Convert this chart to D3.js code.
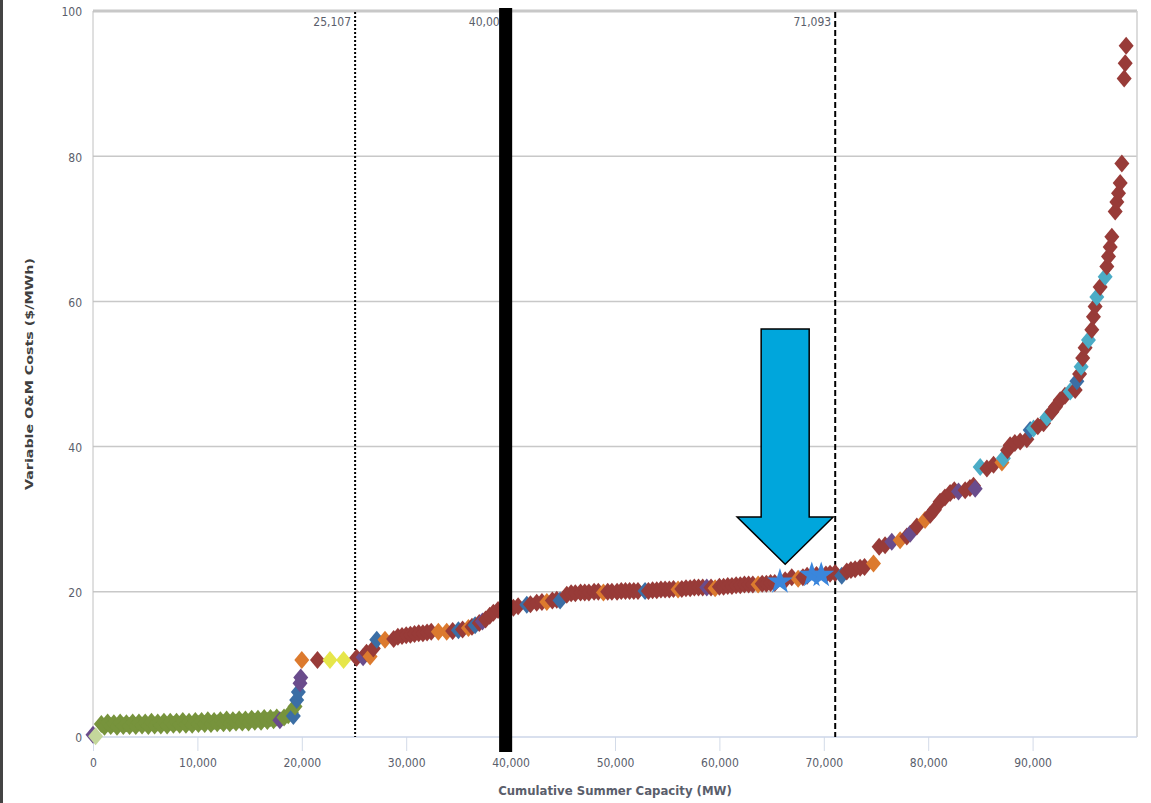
<!DOCTYPE html>
<html>
<head>
<meta charset="utf-8">
<script src="https://cdn.jsdelivr.net/npm/d3@7"></script>
<style>
    body { margin: 0; background: #fff; }
    svg { display: block; }
    .narrow { font-family: "Liberation Sans Narrow", "Arial Narrow", "DejaVu Sans Condensed", "Roboto Condensed", "Liberation Sans", sans-serif; font-stretch: condensed; font-size: 12px; fill: #5a5e6b; }
</style>
</head>
<body>
<div id="chart"></div>
<script>
var width = 1151, height = 803;

// cumulative summer capacity (MW), variable O&M cost ($/MWh) -- one array per marker colour
const sageUnits = [[250, 0.1]];
const greenUnits = [
    [800, 1.8], [1100, 1.4], [1400, 2.0], [1700, 1.5], [2000, 1.9], [2300, 1.4], [2600, 2.0], [2900, 1.5],
    [3200, 1.9], [3500, 1.5], [3800, 2.0], [4100, 1.5], [4400, 2.0], [4700, 1.6], [5000, 2.0], [5300, 1.5],
    [5600, 2.1], [5900, 1.6], [6200, 2.0], [6500, 1.6], [6800, 2.1], [7100, 1.6], [7400, 2.1], [7700, 1.7],
    [8000, 2.1], [8300, 1.7], [8600, 2.2], [8900, 1.7], [9200, 2.1], [9500, 1.7], [9800, 2.2], [10100, 1.8],
    [10400, 2.2], [10700, 1.8], [11000, 2.3], [11300, 1.8], [11600, 2.2], [11900, 1.9], [12200, 2.3], [12500, 1.9],
    [12800, 2.4], [13100, 1.9], [13400, 2.3], [13700, 2.0], [14000, 2.4], [14300, 2.0], [14600, 2.4], [14900, 2.0],
    [15200, 2.5], [15500, 2.1], [15800, 2.5], [16100, 2.1], [16400, 2.6], [16700, 2.2], [17000, 2.6], [17300, 2.3],
    [17600, 2.7], [18300, 2.7], [18700, 3.0], [19000, 3.4], [19350, 4.2]
];
const blueUnits = [
    [19190, 2.9], [19510, 5.1], [19670, 6.2], [27180, 13.4], [35000, 14.7], [36600, 15.4], [41550, 18.2],
    [44740, 18.8], [52880, 20.1], [71720, 22.2], [89770, 42.3], [94240, 49.0]
];
const purpleUnits = [
    [0, 0.3], [17900, 2.3], [19830, 7.4], [19900, 8.2], [25870, 11.0], [37300, 15.9], [58790, 20.6],
    [76510, 26.9], [78270, 28.0], [82900, 33.8], [84500, 34.2]
];
const orangeUnits = [
    [20000, 10.6], [26540, 11.1], [27970, 13.4], [33080, 14.5], [33880, 14.5], [35960, 15.0], [43470, 18.6],
    [48890, 19.9], [56040, 20.3], [59590, 20.5], [63710, 21.0], [67540, 21.8], [74760, 23.9], [77310, 27.1],
    [79700, 29.9], [87060, 37.8]
];
const yellowUnits = [[22700, 10.6], [24000, 10.6]];
const cyanUnits = [
    [84980, 37.2], [87200, 38.4], [90090, 42.5], [91370, 44.0], [93600, 47.6], [94650, 51.0], [95350, 54.7],
    [96150, 60.6], [96950, 63.4]
];
const redUnits = [
    [21500, 10.6], [25250, 10.9], [26200, 11.6], [26850, 12.2],
    [28800, 13.5], [29200, 13.8], [29600, 13.9], [30000, 14.0], [30400, 14.1], [30800, 14.2], [31200, 14.3],
    [31600, 14.3], [32000, 14.4], [32400, 14.5], [34450, 14.6], [35400, 14.8], [36300, 15.2], [37000, 15.7],
    [37600, 16.2], [38000, 16.7], [38350, 17.1], [38800, 17.5], [39300, 17.6], [39800, 17.7], [40270, 17.8],
    [40720, 18.0], [41900, 18.3], [42500, 18.5], [43000, 18.6], [44000, 18.8], [44420, 18.9],
    [45380, 19.6], [45800, 19.8], [46200, 19.8], [46700, 19.9], [47100, 19.9], [47500, 19.9], [48000, 20.0],
    [48400, 20.0], [49300, 20.0], [49700, 20.0], [50200, 20.0], [50600, 20.1], [51000, 20.1], [51400, 20.1],
    [51800, 20.1], [52200, 20.1], [53200, 20.1], [53600, 20.2], [54000, 20.2], [54400, 20.3], [54800, 20.3],
    [55200, 20.3], [55600, 20.4], [56400, 20.4], [56800, 20.5], [57200, 20.5], [57600, 20.6], [58000, 20.6],
    [58400, 20.6], [59200, 20.6], [60000, 20.7], [60400, 20.7], [60800, 20.8], [61200, 20.8], [61600, 20.9],
    [62000, 20.9], [62400, 21.0], [62800, 21.0], [63200, 21.0], [64100, 21.1], [64500, 21.1], [64900, 21.2],
    [65300, 21.2], [66300, 21.6], [66930, 22.0], [68000, 22.0], [68400, 22.2], [69300, 22.3], [70200, 22.4],
    [70600, 22.5], [71080, 22.6], [72200, 22.8], [72600, 23.0], [73000, 23.1], [73480, 23.3], [73900, 23.4],
    [75300, 26.2], [75870, 26.4], [77950, 27.6], [78910, 29.0], [80200, 30.6], [80600, 31.3], [81140, 32.4],
    [81600, 33.0], [82100, 33.6], [82500, 34.0], [83540, 34.0], [84000, 34.3], [84340, 34.6], [85620, 37.0],
    [86260, 37.5], [87600, 39.5], [87850, 40.2], [88300, 40.5], [88810, 40.7], [89450, 41.0], [90500, 42.8],
    [91050, 43.2], [91850, 44.8], [92200, 45.5], [92640, 46.4], [93100, 47.0], [94080, 47.8], [94500, 50.0],
    [94800, 52.2], [95030, 53.6], [95670, 56.1], [95830, 57.9], [95990, 59.3], [96470, 62.0], [97110, 64.8],
    [97270, 66.2], [97430, 67.5], [97590, 68.9], [97910, 72.4], [98070, 73.7], [98230, 74.9], [98390, 76.3],
    [98550, 79.0], [98770, 90.7], [98870, 92.8], [98960, 95.2]
];
const starUnits = [[65800, 21.4], [68850, 22.3], [69750, 22.3]];

const groups = [
    { units: sageUnits, color: '#c4d79b' },
    { units: greenUnits, color: '#77933c' },
    { units: blueUnits, color: '#3b6ea5' },
    { units: purpleUnits, color: '#6a4c8c' },
    { units: orangeUnits, color: '#dc7a2e' },
    { units: yellowUnits, color: '#e6e64a' },
    { units: cyanUnits, color: '#4bacc6' },
    { units: redUnits, color: '#983b38' }
];

const xTicks = [0, 10000, 20000, 30000, 40000, 50000, 60000, 70000, 80000, 90000];
const yTicks = [0, 20, 40, 60, 80, 100];

// reference capacity lines at the top of the plot
const refLines = [
    { value: 25107, label: '25,107', dash: '2,2' },
    { value: 40000, label: '40,000', dash: '2,2' },
    { value: 71093, label: '71,093', dash: '6,3' }
];
// thick black marker drawn over the 40,000 line (MW span)
const blackBar = [38900, 40150];
// big blue arrow (MW / $/MWh)
const arrow = { tip: [66300, 23.8], headCost: 30.3, topCost: 56.2, headHalf: 4600, shaftHalf: 2300 };

var svg = d3.select('#chart').append('svg')
    .attr('width', width)
    .attr('height', height);

const x = d3.scaleLinear().domain([0, 100000]).range([93, 1137]);
const y = d3.scaleLinear().domain([0, 100]).range([737, 11]);

// left border of the screenshot
svg.append('rect').attr('x', 0).attr('y', 0).attr('width', 3).attr('height', height).attr('fill', '#444');

// gridlines
svg.append('g').selectAll('line')
    .data(yTicks.filter(d => d > 0))
    .enter().append('line')
    .attr('x1', x(0)).attr('x2', x(100000))
    .attr('y1', d => y(d)).attr('y2', d => y(d))
    .attr('stroke', '#c8c8c8')
    .attr('stroke-width', d => d == 100 ? 3 : 1.5);

// plot frame: left and right
svg.append('line').attr('x1', x(0)).attr('x2', x(0)).attr('y1', y(100)).attr('y2', y(0))
    .attr('stroke', '#c0c0c0').attr('stroke-width', 1);
svg.append('line').attr('x1', x(100000)).attr('x2', x(100000)).attr('y1', y(100)).attr('y2', y(0))
    .attr('stroke', '#d0d0d0').attr('stroke-width', 1.5);

// x axis
var xAxis = svg.append('g')
    .attr('transform', 'translate(0,' + y(0) + ')')
    .call(d3.axisBottom(x).tickValues(xTicks).tickSize(14).tickFormat(d3.format(',')));
xAxis.select('.domain').remove();
xAxis.selectAll('.tick line').attr('stroke', '#d3dbe8');
xAxis.selectAll('.tick text').attr('class', 'narrow').attr('y', 21).attr('dy', '0.71em');
svg.append('line').attr('x1', x(0)).attr('x2', x(100000)).attr('y1', y(0)).attr('y2', y(0))
    .attr('stroke', '#cdd6e8').attr('stroke-width', 1.5);

// y axis
var yAxis = svg.append('g')
    .attr('transform', 'translate(' + x(0) + ',0)')
    .call(d3.axisLeft(y).tickValues(yTicks).tickSize(0).tickPadding(11));
yAxis.select('.domain').remove();
yAxis.selectAll('.tick text').attr('class', 'narrow').attr('dy', '0.4em');

// reference lines
svg.append('g').selectAll('line')
    .data(refLines)
    .enter().append('line')
    .attr('x1', d => x(d.value)).attr('x2', d => x(d.value))
    .attr('y1', y(100) + 1).attr('y2', y(0))
    .attr('stroke', '#000')
    .attr('stroke-width', 2)
    .attr('stroke-dasharray', d => d.dash);

svg.append('g').selectAll('text')
    .data(refLines)
    .enter().append('text')
    .attr('class', 'narrow')
    .attr('x', d => x(d.value) - 4)
    .attr('y', 26)
    .attr('text-anchor', 'end')
    .text(d => d.label);

// scatter: draw in order of capacity so later units sit on top
var diamond = 'M0,-9L7.5,0L0,9L-7.5,0Z';
var units = [];
groups.forEach(g => g.units.forEach(u => units.push({ cap: u[0], cost: u[1], color: g.color })));
units.sort((a, b) => a.cap - b.cap);

svg.append('g').selectAll('path')
    .data(units)
    .enter().append('path')
    .attr('d', diamond)
    .attr('transform', d => 'translate(' + x(d.cap) + ',' + y(d.cost) + ')')
    .attr('fill', d => d.color);

svg.append('g').selectAll('path')
    .data(starUnits)
    .enter().append('path')
    .attr('d', d3.symbol(d3.symbolStar, 210))
    .attr('transform', d => 'translate(' + x(d[0]) + ',' + y(d[1]) + ')')
    .attr('fill', '#3a86dc');

// black bar
svg.append('rect')
    .attr('x', x(blackBar[0]))
    .attr('width', x(blackBar[1]) - x(blackBar[0]))
    .attr('y', 8)
    .attr('height', 752 - 8)
    .attr('fill', '#000');

// arrow
var t = arrow.tip;
var arrowPts = [
    [t[0], t[1]],
    [t[0] + arrow.headHalf, arrow.headCost],
    [t[0] + arrow.shaftHalf, arrow.headCost],
    [t[0] + arrow.shaftHalf, arrow.topCost],
    [t[0] - arrow.shaftHalf, arrow.topCost],
    [t[0] - arrow.shaftHalf, arrow.headCost],
    [t[0] - arrow.headHalf, arrow.headCost]
];
svg.append('polygon')
    .attr('points', arrowPts.map(p => x(p[0]) + ',' + y(p[1])).join(' '))
    .attr('fill', '#00a6dc')
    .attr('stroke', '#000')
    .attr('stroke-width', 1.5);

// axis titles
svg.append('text')
    .attr('class', 'narrow')
    .attr('x', (x(0) + x(100000)) / 2)
    .attr('y', 795)
    .attr('text-anchor', 'middle')
    .style('font-weight', 'bold')
    .style('font-size', '13px')
    .text('Cumulative Summer Capacity (MW)');

svg.append('text')
    .attr('transform', 'translate(33,374) rotate(-90)')
    .attr('text-anchor', 'middle')
    .attr('textLength', 232)
    .attr('lengthAdjust', 'spacingAndGlyphs')
    .style('font-family', '"DejaVu Sans", Verdana, sans-serif')
    .style('font-weight', 'bold')
    .style('font-size', '11px')
    .style('fill', '#404040')
    .text('Variable O&M Costs ($/MWh)');
</script>
</body>
</html>
